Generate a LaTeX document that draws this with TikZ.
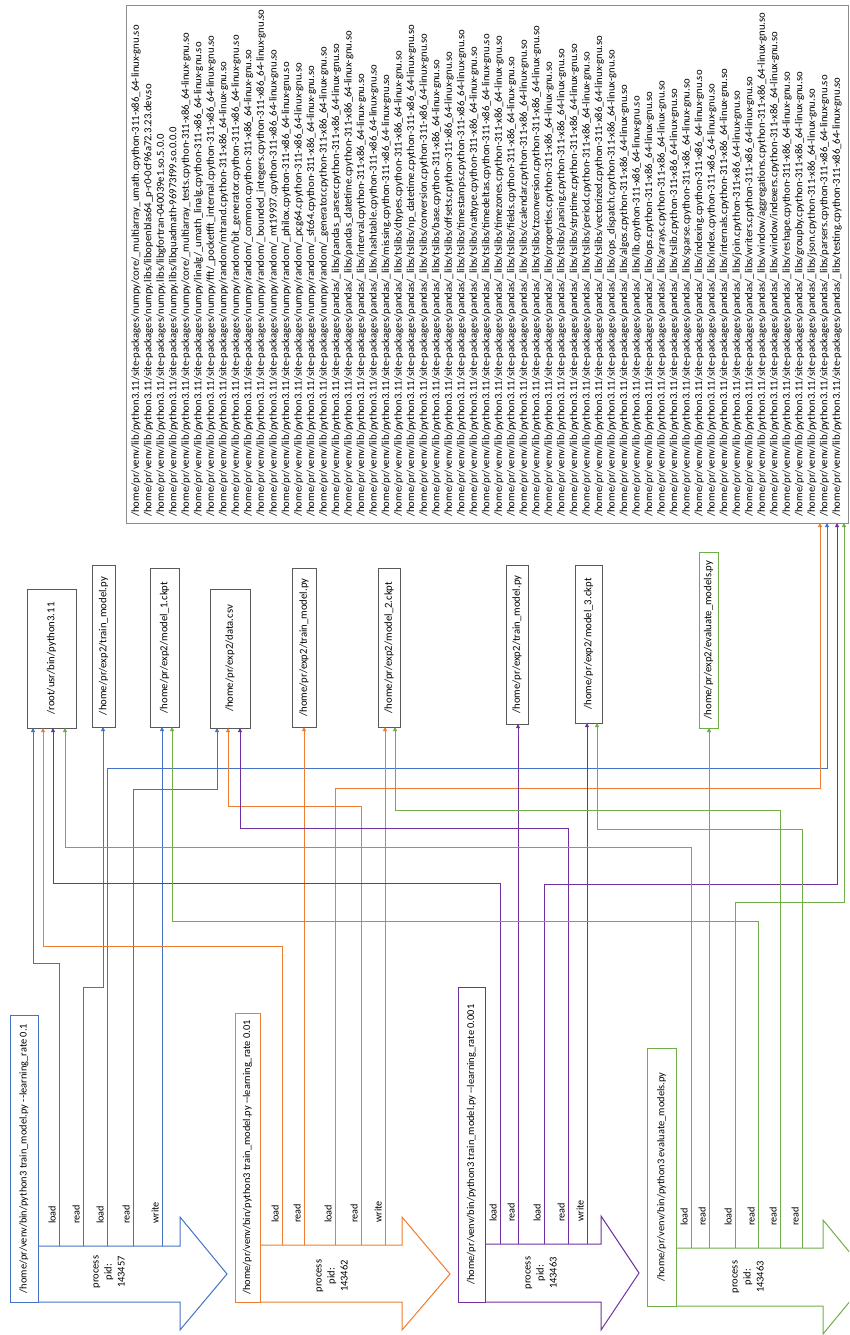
\documentclass[tikz,border=0pt]{standalone}
\usepackage{fontspec}
\setmainfont{Carlito}
\usetikzlibrary{arrows.meta}
\definecolor{cB}{HTML}{4472C4}
\definecolor{cO}{HTML}{ED7D31}
\definecolor{cP}{HTML}{7030A0}
\definecolor{cG}{HTML}{70AD47}
\definecolor{cK}{HTML}{595959}
\definecolor{cL}{HTML}{8C8C8C}
\newcommand\pfx{/home/pr/venv/lib/python3.11/site-packages/}
\newcommand\sfx{.cpython-311-x86\_64-linux-gnu.so}
\begin{document}
\begin{tikzpicture}[x=1pt,y=-1pt,
  conn/.style={line width=1pt,-{Triangle[length=4pt,width=4pt]}},
  fbox/.style={draw=cK,line width=1pt,outer sep=0pt,inner sep=0pt},
  cmdbox/.style={line width=1pt,outer sep=0pt,inner sep=0pt,anchor=north west},
  ftxt/.style={rotate=90,font=\fontsize{10.7}{12}\selectfont,inner sep=0pt},
  ctxt/.style={rotate=90,font=\fontsize{10.4}{12}\selectfont,inner sep=0pt},
  ptxt/.style={rotate=90,font=\fontsize{10.5}{13}\selectfont,align=center,inner sep=0pt},
  lab/.style={rotate=90,font=\fontsize{10.2}{12}\selectfont,anchor=south west,inner sep=1pt},
  ltxt/.style={rotate=90,font=\fontsize{10.7}{12}\selectfont,anchor=west,inner sep=0pt},
  proc/.style={line width=1pt,line join=miter}]
\useasboundingbox (0,0) rectangle (849,1335);
\clip (0,0) rectangle (849,1335);

% ---------- library list ----------
\node[draw=cL,line width=0.8pt,minimum width=722pt,minimum height=518pt,
      anchor=north west,inner sep=0pt,outer sep=0pt] (lst) at (126,5) {};
\foreach \fn [count=\i] in {
 numpy/core/\_multiarray\_umath\sfx,
 numpy.libs/libopenblas64\_p-r0-0cf96a72.3.23.dev.so,
 numpy.libs/libgfortran-040039e1.so.5.0.0,
 numpy.libs/libquadmath-96973f99.so.0.0.0,
 numpy/core/\_multiarray\_tests\sfx,
 numpy/linalg/\_umath\_linalg\sfx,
 numpy/fft/\_pocketfft\_internal\sfx,
 numpy/random/mtrand\sfx,
 numpy/random/bit\_generator\sfx,
 numpy/random/\_common\sfx,
 numpy/random/\_bounded\_integers\sfx,
 numpy/random/\_mt19937\sfx,
 numpy/random/\_philox\sfx,
 numpy/random/\_pcg64\sfx,
 numpy/random/\_sfc64\sfx,
 numpy/random/\_generator\sfx,
 pandas/\_libs/pandas\_parser\sfx,
 pandas/\_libs/pandas\_datetime\sfx,
 pandas/\_libs/interval\sfx,
 pandas/\_libs/hashtable\sfx,
 pandas/\_libs/missing\sfx,
 pandas/\_libs/tslibs/dtypes\sfx,
 pandas/\_libs/tslibs/np\_datetime\sfx,
 pandas/\_libs/tslibs/conversion\sfx,
 pandas/\_libs/tslibs/base\sfx,
 pandas/\_libs/tslibs/offsets\sfx,
 pandas/\_libs/tslibs/timestamps\sfx,
 pandas/\_libs/tslibs/nattype\sfx,
 pandas/\_libs/tslibs/timedeltas\sfx,
 pandas/\_libs/tslibs/timezones\sfx,
 pandas/\_libs/tslibs/fields\sfx,
 pandas/\_libs/tslibs/ccalendar\sfx,
 pandas/\_libs/tslibs/tzconversion\sfx,
 pandas/\_libs/properties\sfx,
 pandas/\_libs/tslibs/parsing\sfx,
 pandas/\_libs/tslibs/strptime\sfx,
 pandas/\_libs/tslibs/period\sfx,
 pandas/\_libs/tslibs/vectorized\sfx,
 pandas/\_libs/ops\_dispatch\sfx,
 pandas/\_libs/algos\sfx,
 pandas/\_libs/lib\sfx,
 pandas/\_libs/ops\sfx,
 pandas/\_libs/arrays\sfx,
 pandas/\_libs/tslib\sfx,
 pandas/\_libs/sparse\sfx,
 pandas/\_libs/indexing\sfx,
 pandas/\_libs/index\sfx,
 pandas/\_libs/internals\sfx,
 pandas/\_libs/join\sfx,
 pandas/\_libs/writers\sfx,
 pandas/\_libs/window/aggregations\sfx,
 pandas/\_libs/window/indexers\sfx,
 pandas/\_libs/reshape\sfx,
 pandas/\_libs/groupby\sfx,
 pandas/\_libs/json\sfx,
 pandas/\_libs/parsers\sfx,
 pandas/\_libs/testing\sfx}
 \node[ltxt] (L\i) at ({136+(\i-1)*12.52},517) {\pfx\fn};

% ---------- file boxes ----------
\node[fbox,minimum width=49pt,minimum height=139pt] (root) at (51.5,658.5) {};
\node[ftxt] (rootT) at (root) {/root/usr/bin/python3.11};
\node[fbox,minimum width=23pt,minimum height=162pt] (tr1) at (103.5,646) {};
\node[ftxt] (tr1T) at (tr1) {/home/pr/exp2/train\_model.py};
\node[fbox,minimum width=29pt,minimum height=159pt] (m1) at (164.5,647.5) {};
\node[ftxt] (m1T) at (m1) {/home/pr/exp2/model\_1.ckpt};
\node[fbox,minimum width=40pt,minimum height=139pt] (data) at (230,658.5) {};
\node[ftxt] (dataT) at (data) {/home/pr/exp2/data.csv};
\node[fbox,minimum width=24pt,minimum height=159pt] (tr2) at (304,647.5) {};
\node[ftxt] (tr2T) at (tr2) {/home/pr/exp2/train\_model.py};
\node[fbox,minimum width=22pt,minimum height=159pt] (m2) at (389,647.5) {};
\node[ftxt] (m2T) at (m2) {/home/pr/exp2/model\_2.ckpt};
\node[fbox,minimum width=22pt,minimum height=159pt] (tr3) at (517,644.5) {};
\node[ftxt] (tr3T) at (tr3) {/home/pr/exp2/train\_model.py};
\node[fbox,minimum width=27pt,minimum height=158pt] (m3) at (588.5,644) {};
\node[ftxt] (m3T) at (m3) {/home/pr/exp2/model\_3.ckpt};
\node[fbox,draw=cG,minimum width=19pt,minimum height=176pt] (ev) at (708.5,640) {};
\node[ftxt] (evT) at (ev) {/home/pr/exp2/evaluate\_models.py};

% ---------- process 1 (blue) ----------
\node[cmdbox,draw=cB,minimum width=28pt,minimum height=287pt] (cmd1) at (10,1015) {};
\node[ctxt] (cmd1T) at (cmd1) {/home/pr/venv/bin/python3 train\_model.py -{}-learning\_rate 0.1};
\draw[cB,proc] (38,1246) -- (180,1246) -- (180,1217) -- (227,1274) -- (180,1330) -- (180,1302) -- (38,1302);
\node[ptxt] (pid1) at (109,1272) {process\\pid:\\143457};
% ---------- process 2 (orange) ----------
\node[cmdbox,draw=cO,minimum width=25pt,minimum height=289pt] (cmd2) at (235,1013) {};
\node[ctxt] (cmd2T) at (cmd2) {/home/pr/venv/bin/python3 train\_model.py -{}-learning\_rate 0.01};
\draw[cO,proc] (260,1245) -- (402,1245) -- (402,1217) -- (450,1274) -- (402,1330) -- (402,1302) -- (260,1302);
\node[ptxt] (pid2) at (332,1276) {process\\pid:\\143462};
% ---------- process 3 (purple) ----------
\node[cmdbox,draw=cP,minimum width=27pt,minimum height=315pt] (cmd3) at (458,987) {};
\node[ctxt] (cmd3T) at (cmd3) {/home/pr/venv/bin/python3 train\_model.py -{}-learning\_rate 0.001};
\draw[cP,proc] (485,1244) -- (601,1244) -- (601,1216) -- (639,1273) -- (601,1330) -- (601,1302) -- (485,1302);
\node[ptxt] (pid3) at (541,1273) {process\\pid:\\143463};
% ---------- process 4 (green) ----------
\node[cmdbox,draw=cG,minimum width=29pt,minimum height=258pt] (cmd4) at (647,1048) {};
\node[ctxt] (cmd4T) at (cmd4) {/home/pr/venv/bin/python3 evaluate\_models.py};
\draw[cG,proc] (676,1248) -- (823,1248) -- (823,1220) -- (870,1277) -- (823,1334) -- (823,1306) -- (676,1306);
\node[ptxt] (pid4) at (748,1277) {process\\pid:\\143463};

% ---------- access points ----------
\coordinate (p1a) at (59,1246);  \coordinate (p1b) at (83,1246);
\coordinate (p1c) at (107,1246); \coordinate (p1d) at (133,1246);
\coordinate (p1e) at (162,1246);
\coordinate (p2a) at (282,1245); \coordinate (p2b) at (304,1245);
\coordinate (p2c) at (335,1245); \coordinate (p2d) at (361,1245);
\coordinate (p2e) at (385,1245);
\coordinate (p3a) at (500,1244); \coordinate (p3b) at (518,1244);
\coordinate (p3c) at (544,1244); \coordinate (p3d) at (568,1244);
\coordinate (p3e) at (587,1244);
\coordinate (p4a) at (691,1248); \coordinate (p4b) at (709,1248);
\coordinate (p4c) at (735,1248); \coordinate (p4d) at (758,1248);
\coordinate (p4e) at (780,1248); \coordinate (p4f) at (802,1248);

% labels
\node[lab] (t1a) at (57,1225) {load};  \node[lab] (t1b) at (81,1225) {read};
\node[lab] (t1c) at (105,1225) {load}; \node[lab] (t1d) at (131,1225) {read};
\node[lab] (t1e) at (160,1225) {write};
\node[lab] (t2a) at (280,1224) {load};  \node[lab] (t2b) at (302,1224) {read};
\node[lab] (t2c) at (333,1224) {load};  \node[lab] (t2d) at (359,1224) {read};
\node[lab] (t2e) at (383,1224) {write};
\node[lab] (t3a) at (498,1223) {load};  \node[lab] (t3b) at (516,1223) {read};
\node[lab] (t3c) at (542,1223) {load};  \node[lab] (t3d) at (566,1223) {read};
\node[lab] (t3e) at (585,1223) {write};
\node[lab] (t4a) at (689,1227) {load};  \node[lab] (t4b) at (707,1227) {read};
\node[lab] (t4c) at (733,1227) {load};  \node[lab] (t4d) at (756,1227) {read};
\node[lab] (t4e) at (778,1227) {read};  \node[lab] (t4f) at (800,1227) {read};

% ---------- connectors ----------
% blue
\draw[conn,cB] (p1a) -- ++(0,-283) -| ([xshift=6pt]root.south west);
\draw[conn,cB] (p1b) -- ++(0,-259) -| ([xshift=11pt]tr1.south west);
\draw[conn,cB] (p1c) -- ++(0,-478) -| ([xshift=701pt]lst.south west);
\draw[conn,cB] (p1d) -- ++(0,-457) -| ([xshift=7pt]data.south west);
\draw[conn,cB] (p1e) -- (p1e |- m1.south);
% orange
\draw[conn,cO] (p2a) -- ++(0,-299) -| ([xshift=16pt]root.south west);
\draw[conn,cO] (p2b) -- (p2b |- tr2.south);
\draw[conn,cO] (p2c) -- ++(0,-457) -| ([xshift=694pt]lst.south west);
\draw[conn,cO] (p2d) -- ++(0,-439) -| ([xshift=18pt]data.south west);
\draw[conn,cO] (p2e) -- (p2e |- m2.south);
% purple
\draw[conn,cP] (p3a) -- ++(0,-361) -| ([xshift=26pt]root.south west);
\draw[conn,cP] (p3b) -- (p3b |- tr3.south);
\draw[conn,cP] (p3c) -- ++(0,-360) -| ([xshift=711pt]lst.south west);
\draw[conn,cP] (p3d) -- ++(0,-416) -| ([xshift=30pt]data.south west);
\draw[conn,cP] (p3e) -- (p3e |- m3.south);
% green
\draw[conn,cG] (p4a) -- ++(0,-401) -| ([xshift=38pt]root.south west);
\draw[conn,cG] (p4b) -- (p4b |- ev.south);
\draw[conn,cG] (p4c) -- ++(0,-346) -| ([xshift=718pt]lst.south west);
\draw[conn,cG] (p4d) -- ++(0,-327) -| ([xshift=22pt]m1.south west);
\draw[conn,cG] (p4e) -- ++(0,-438) -| ([xshift=17pt]m2.south west);
\draw[conn,cG] (p4f) -- ++(0,-419) -| ([xshift=22pt]m3.south west);
\end{tikzpicture}
\end{document}
